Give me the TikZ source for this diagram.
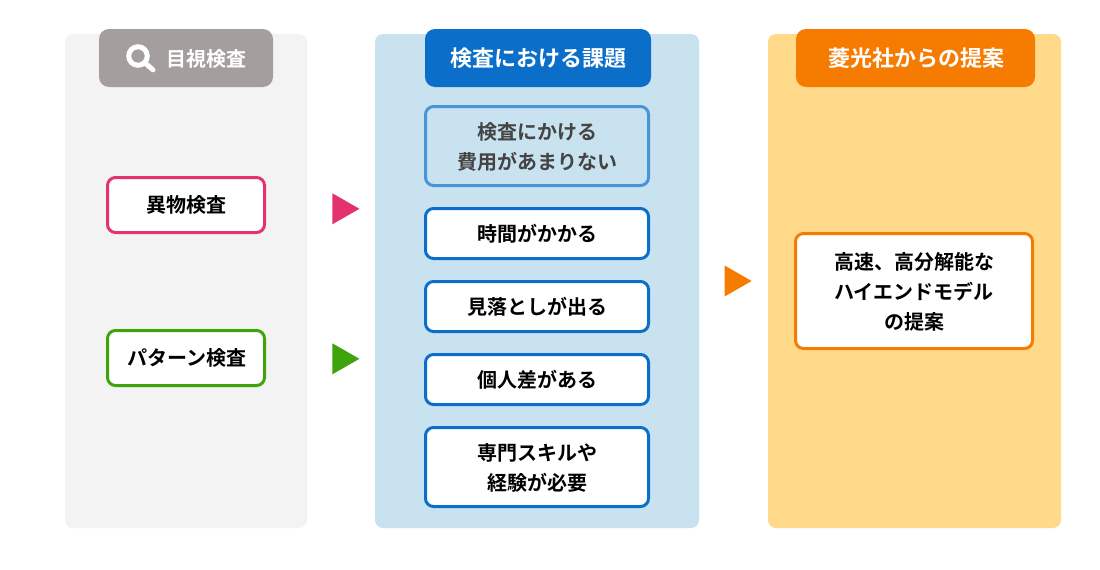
\documentclass[tikz,border=0pt]{standalone}
\usepackage{fontspec}
\setmainfont{Noto Sans CJK JP}[BoldFont={Noto Sans CJK JP Bold}]
\definecolor{panelgrey}{HTML}{F3F3F3}
\definecolor{panelblue}{HTML}{C9E2F0}
\definecolor{panelyellow}{HTML}{FFDA8A}
\definecolor{headgrey}{HTML}{A49E9E}
\definecolor{headblue}{HTML}{0B6FC9}
\definecolor{headorange}{HTML}{F57C00}
\definecolor{fadeblue}{HTML}{4695D8}
\definecolor{fadetext}{HTML}{444444}
\definecolor{pinkc}{HTML}{E3326E}
\definecolor{greenc}{HTML}{3FA30B}
\tikzset{
  x=1pt,y=-1pt,
  panel/.style={rounded corners=8pt,minimum width=#1,minimum height=494pt,inner sep=0pt,outer sep=0pt},
  headbox/.style={rounded corners=10pt,minimum height=58pt,minimum width=#1,inner sep=0pt,outer sep=0pt,text=white,font=\fontsize{22}{30}\selectfont\bfseries},
  itembox/.style={draw,line width=3pt,fill=white,rounded corners=8pt,inner sep=0pt,outer sep=0pt,align=center,text=black,font=\fontsize{20}{30}\selectfont\bfseries},
}
\begin{document}
\begin{tikzpicture}
\useasboundingbox (0,0) rectangle (1100,570);
% panels
\node[panel=242pt,fill=panelgrey] (p1) at (186,281) {};
\node[panel=324pt,fill=panelblue] (p2) at (537,281) {};
\node[panel=293pt,fill=panelyellow] (p3) at (914.5,281) {};
% headers
\node[headbox=174pt,fill=headgrey] (h1) at (186,58) {};
\node[text=white,inner sep=0pt,font=\fontsize{20}{30}\selectfont\bfseries] (h1t) at (206,59) {目視検査};
\node[circle,draw=white,line width=5pt,minimum size=18.6pt,inner sep=0pt,outer sep=0pt] (lens) at (138,56) {};
\coordinate (lensend) at (153,69.8);
\draw[white,line width=5pt,line cap=round,shorten <=1pt] (lens.south east) -- (lensend);
\node[headbox=226pt,fill=headblue] (h2) at (538,58) {検査における課題};
\node[headbox=239pt,fill=headorange] (h3) at (915.5,58) {\hspace{1pt}菱光社からの提案};
% left items
\node[itembox,draw=pinkc,minimum width=157pt,minimum height=55pt] (a1) at (186,205) {異物検査};
\node[itembox,draw=greenc,minimum width=157pt,minimum height=55pt] (a2) at (186,358) {\hspace{1pt}パターン検査};
% middle items
\node[itembox,draw=fadeblue,fill=panelblue,text=fadetext,minimum width=223pt,minimum height=79pt] (b1) at (537,146) {\rule{0pt}{19pt}検査にかける\\費用があまりない};
\node[itembox,draw=headblue,minimum width=223pt,minimum height=50pt] (b2) at (537,233.5) {時間がかかる};
\node[itembox,draw=headblue,minimum width=223pt,minimum height=50pt] (b3) at (537,306.5) {見落としが出る};
\node[itembox,draw=headblue,minimum width=223pt,minimum height=50pt] (b4) at (537,379.5) {個人差がある};
\node[itembox,draw=headblue,minimum width=223pt,minimum height=79pt] (b5) at (537,467) {\rule{0pt}{19pt}専門スキルや\\経験が必要};
% right item
\node[itembox,draw=headorange,minimum width=237pt,minimum height=115pt] (c1) at (914,291) {\rule{0pt}{19pt}高速、高分解能な\\ハイエンドモデル\\の提案};
% triangles
\fill[pinkc] (332.4,193.3) -- (359.4,208.8) -- (332.4,224.3) -- cycle;
\fill[greenc] (332.4,343.3) -- (359.4,358.8) -- (332.4,374.3) -- cycle;
\fill[headorange] (724.6,265.5) -- (751.6,281) -- (724.6,296.5) -- cycle;
\end{tikzpicture}
\end{document}
